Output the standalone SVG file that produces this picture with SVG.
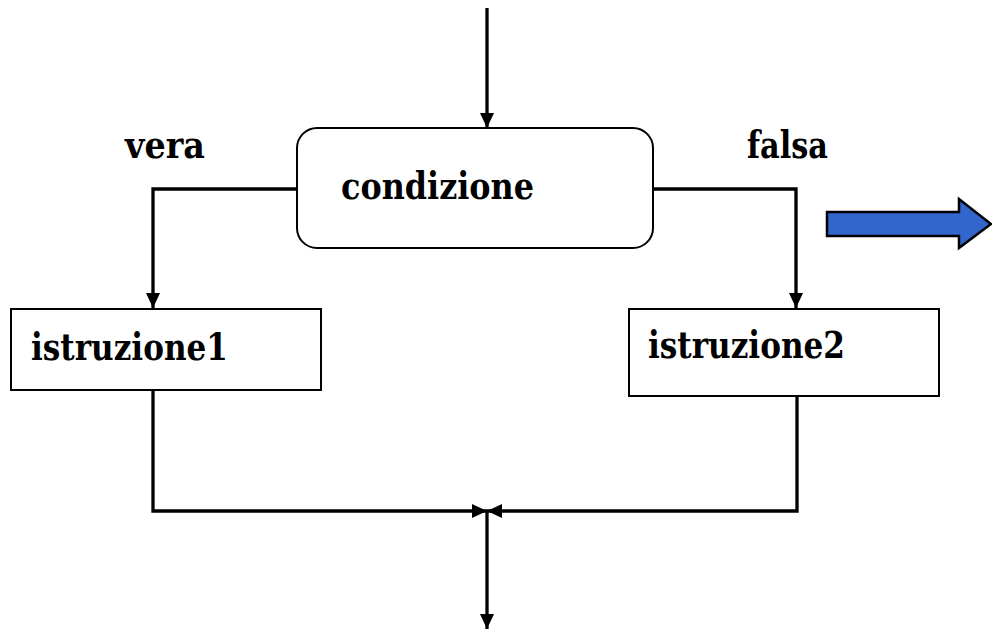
<svg xmlns="http://www.w3.org/2000/svg" width="992" height="630" viewBox="0 0 992 630">
<defs>
<marker id="ah" viewBox="0 0 15 14" refX="15" refY="7" markerWidth="15" markerHeight="14" markerUnits="userSpaceOnUse" orient="auto">
<path d="M0,0 L15,7 L0,14 Z" fill="#000"/>
</marker>
</defs>
<style>
.t{font-family:'DejaVu Serif','Liberation Serif',serif;font-weight:bold;font-size:38px;fill:#000}
.box{fill:#fff;stroke:#000;stroke-width:2}
.ca{fill:none;stroke:#000;stroke-width:3.3;marker-end:url(#ah)}
</style>
<rect width="992" height="630" fill="#fff"/>
<g id="connectors">
<path class="ca" d="M487,8 V128"/>
<path class="ca" d="M296,189 H153 V308"/>
<path class="ca" d="M653,189 H796 V308"/>
<path class="ca" d="M153,390 V511 H487"/>
<path class="ca" d="M797,391 V511 H487"/>
<path class="ca" d="M487,511 V629"/>
</g>
<g id="condizione">
<rect class="box" x="297" y="128" width="356" height="120" rx="20" ry="20"/>
<text class="t" x="341" y="199" textLength="193" lengthAdjust="spacingAndGlyphs">condizione</text>
</g>
<g id="istruzione1">
<rect class="box" x="11" y="309" width="310" height="81"/>
<text class="t" x="31" y="360" textLength="197" lengthAdjust="spacingAndGlyphs">istruzione1</text>
</g>
<g id="istruzione2">
<rect class="box" x="629" y="309" width="310" height="87"/>
<text class="t" x="648" y="358" textLength="197" lengthAdjust="spacingAndGlyphs">istruzione2</text>
</g>
<g id="labels">
<text class="t" x="125" y="158" textLength="80" lengthAdjust="spacingAndGlyphs">vera</text>
<text class="t" x="747" y="158" textLength="81" lengthAdjust="spacingAndGlyphs">falsa</text>
</g>
<g id="blue-arrow">
<polygon points="827,212 959,212 959,199 991,224 959,248 959,236 827,236" fill="#3366cc" stroke="#000" stroke-width="2.5" stroke-linejoin="miter"/>
</g>
</svg>
